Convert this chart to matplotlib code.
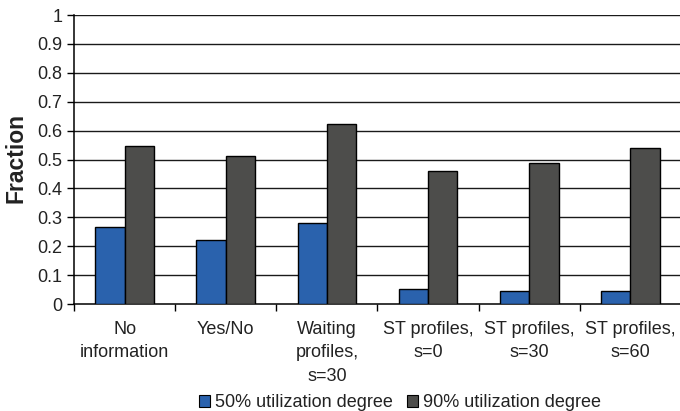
import numpy as np
import matplotlib
matplotlib.use("Agg")
import matplotlib.pyplot as plt
from matplotlib.patches import Patch

plt.rcParams['font.family'] = ['Liberation Sans', 'DejaVu Sans']

# data
categories = ["No\ninformation", "Yes/No", "Waiting\nprofiles,\ns=30",
              "ST profiles,\ns=0", "ST profiles,\ns=30", "ST profiles,\ns=60"]
util_50 = [0.266, 0.221, 0.279, 0.052, 0.046, 0.046]
util_90 = [0.547, 0.511, 0.622, 0.460, 0.489, 0.541]
series_names = ["50% utilization degree", "90% utilization degree"]
yticks = [0, 0.1, 0.2, 0.3, 0.4, 0.5, 0.6, 0.7, 0.8, 0.9, 1]
ytick_labels = ["0", "0.1", "0.2", "0.3", "0.4", "0.5", "0.6", "0.7", "0.8", "0.9", "1"]

blue = "#2a62ad"
gray = "#4d4d4b"
txt = "#222222"

fig = plt.figure(figsize=(6.8, 4.11), dpi=100)
ax = fig.add_axes([0.1088, 0.2603, 0.8926, 0.7032])

x = np.arange(len(categories))
w = 0.29
ax.bar(x - w / 2, util_50, w, color=blue, edgecolor="black", linewidth=1.0, zorder=3)
ax.bar(x + w / 2, util_90, w, color=gray, edgecolor="black", linewidth=1.0, zorder=3)

ax.set_xlim(-0.5, len(categories) - 0.5)
ax.set_ylim(0, 1)
ax.set_yticks(yticks)
ax.set_yticklabels(ytick_labels, fontsize=13, color=txt)
for t in yticks[1:]:
    ax.axhline(t, color="#1a1a1a", linewidth=1.0, zorder=1)

# category labels centred, ticks at category boundaries
ax.set_xticks(x)
ax.set_xticklabels(categories, fontsize=13, linespacing=1.5, va="top", color=txt)
ax.tick_params(axis="x", length=0, pad=12)
ax.set_xticks(np.arange(len(categories) + 1) - 0.5, minor=True)
ax.tick_params(axis="x", which="minor", length=5, width=1.0, direction="out")
ax.tick_params(axis="y", length=5, width=1.0, direction="out", pad=3.5)

for s in ["top", "right"]:
    ax.spines[s].set_visible(False)
ax.spines["left"].set_linewidth(1.1)
ax.spines["bottom"].set_linewidth(1.1)

fig.text(0.0228, 0.6156, "Fraction", rotation=90, fontsize=16.5, fontweight="bold",
         ha="center", va="center", color=txt)

handles = [Patch(facecolor=blue, edgecolor="black", linewidth=0.8),
           Patch(facecolor=gray, edgecolor="black", linewidth=0.8)]
fig.legend(handles, series_names, loc="center", bbox_to_anchor=(0.588, 0.02),
           ncol=2, frameon=False, fontsize=13, handlelength=0.62, handleheight=0.62,
           handletextpad=0.28, columnspacing=0.75, borderaxespad=0, borderpad=0,
           labelcolor=txt)

fig.savefig("out.png", dpi=100)
